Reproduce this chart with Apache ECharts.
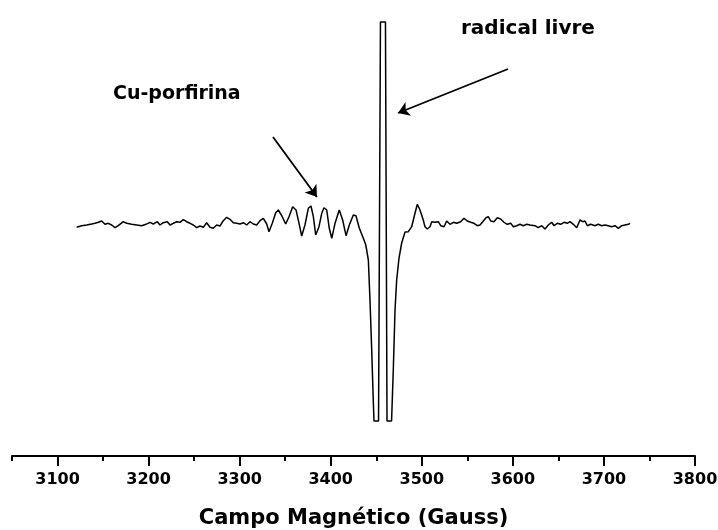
<!DOCTYPE html>
<html>
<head>
<meta charset="utf-8">
<script src="https://cdn.jsdelivr.net/npm/echarts@6/dist/echarts.min.js"></script>
<style>html,body{margin:0;padding:0;background:#fff;}#c{width:718px;height:530px;}</style>
</head>
<body>
<div id="c"></div>
<script>
// EPR spectrum: [magnetic field (Gauss), intensity (arb. units)]
var spectrum = [
[3121.0,-3.3],[3126.5,-1.7],[3132.0,-1],[3137.5,0],[3141.1,0.7],[3144.8,1.7],[3148.5,3],[3152.1,-0.3],[3155.7,0.7],[3159.5,-1],
[3163.1,-3.7],[3166.7,-1.7],[3172.2,2.3],[3176.0,0.7],[3181.4,-0.3],[3186.9,-1],[3192.4,-1.7],[3197.1,-0.3],[3201.5,1.7],[3205.2,0],
[3209.6,2.3],[3212.5,-1],[3216.1,1.3],[3220.5,2.3],[3223.5,-1],[3227.1,0.7],[3230.9,2.3],[3234.5,1.7],[3238.1,4.3],[3241.8,2.3],
[3245.5,0.7],[3249.1,-1],[3252.8,-3.7],[3256.4,-2],[3260.1,-3.3],[3263.8,1.3],[3267.4,-3.3],[3271.0,-4.3],[3274.8,-1],[3278.4,-2],
[3282.0,3.3],[3285.8,6.7],[3289.4,4.7],[3293.0,1.3],[3296.7,0.7],[3300.4,0],[3304.0,1.3],[3307.7,-1],[3311.3,2.3],[3315.0,0],
[3318.7,-1],[3322.3,3.3],[3326.0,5.7],[3329.7,0],[3332.2,-7.7],[3335.8,0.7],[3339.6,11.3],[3342.4,14],[3346.8,7.3],[3350.5,0],
[3354.2,7.3],[3358.2,17.3],[3361.9,14],[3365.2,0.7],[3368.1,-12],[3371.7,-1],[3375.4,15.7],[3378.3,18],[3380.9,7.3],[3383.5,-11],
[3387.1,-2.7],[3390.1,10.7],[3392.6,16.3],[3395.6,14],[3398.4,-4.3],[3401.1,-14.3],[3404.7,0.7],[3409.4,14],[3413.1,4],[3416.8,-11.7],
[3420.4,-1],[3424.8,9],[3427.7,8.3],[3431.4,-4.3],[3435.8,-14.3],[3438.5,-21],[3441.3,-36],[3443.1,-76],[3445.0,-126],[3446.7,-176],
[3447.5,-197],[3452.5,-197],[3454.6,202],[3460.1,202],[3461.8,-197],[3466.8,-197],[3468.7,-146],[3470.6,-86],[3472.4,-56],[3475.0,-34],
[3477.9,-19],[3481.6,-8],[3485.2,-7.7],[3488.9,-2.7],[3492.5,10.7],[3495.1,19.7],[3498.0,14],[3501.6,4],[3503.5,-2.7],[3506.0,-5],
[3509.0,-2.7],[3510.9,2.3],[3514.5,1.7],[3518.1,2.3],[3520.8,-1.7],[3524.4,-2.7],[3527.3,3],[3531.0,-0.3],[3534.6,1.7],[3538.3,0.7],
[3542.7,2.3],[3546.3,5.7],[3550.0,3],[3553.7,1.7],[3557.3,0.7],[3561.0,-1.7],[3563.9,-1],[3566.9,2.3],[3570.5,6.3],[3573.0,7.3],
[3575.7,3],[3579.3,2.3],[3582.9,6.3],[3586.6,5],[3590.3,1.7],[3593.9,-0.3],[3597.6,0.7],[3600.5,-2.7],[3604.2,-1.7],[3607.8,-0.3],
[3611.5,-1.7],[3615.2,-0.3],[3618.8,-1],[3624.3,-1.7],[3627.9,-3.7],[3631.7,-1.7],[3635.3,-5],[3638.9,-1],[3642.6,1.7],[3645.2,-1.7],
[3648.8,0.7],[3652.5,-0.3],[3656.1,1.7],[3659.8,0.7],[3662.7,2.3],[3666.4,-0.3],[3670.1,-3.7],[3673.7,4],[3676.7,2.3],[3679.2,3],
[3681.7,-1.7],[3685.5,-0.3],[3690.2,-1.7],[3693.8,-0.3],[3697.6,-1.7],[3701.2,-1],[3704.8,-1.7],[3708.5,-2.7],[3712.2,-1.7],[3715.8,-4.3],
[3719.5,-1.7],[3723.1,-1],[3726.8,-0.3],[3728.6,0.7]
];
var majorTicks = [3100,3200,3300,3400,3500,3600,3700,3800];
var minorTicks = [3050,3150,3250,3350,3450,3550,3650,3750];
var xName = 'Campo Magnético (Gauss)';
// annotations: label text and arrow [from, to] in data coords
var labelRadical = 'radical livre';
var labelCu = 'Cu-porfirina';
var arrowRadical = [[3594.7,155],[3473.9,111]];
var arrowCu = [[3336.6,87],[3384.9,27]];

var FONT = 'DejaVu Sans';
var chart = echarts.init(document.getElementById('c'), null, {renderer:'canvas'});
chart.setOption({
  animation:false,
  backgroundColor:'#ffffff',
  grid:{left:12,right:23,top:10,bottom:74,containLabel:false,outerBoundsMode:'none'},
  xAxis:[{
    type:'value',min:3050,max:3800,position:'bottom',
    name:xName,nameLocation:'middle',nameGap:52,
    nameTextStyle:{fontFamily:FONT,fontWeight:'bold',fontSize:21,color:'#000'},
    axisLine:{show:true,onZero:false,lineStyle:{color:'#000',width:2}},
    axisTick:{show:true,customValues:majorTicks,length:10,lineStyle:{color:'#000',width:2}},
    axisLabel:{show:true,customValues:majorTicks,margin:16,fontFamily:FONT,fontWeight:'bold',fontSize:16,color:'#000',
      formatter:function(v){return String(v);}},
    splitLine:{show:false}
  },{
    type:'value',min:3050,max:3800,position:'bottom',
    axisLine:{show:false,onZero:false},
    axisTick:{show:true,customValues:minorTicks,length:5,lineStyle:{color:'#000',width:2}},
    axisLabel:{show:false},
    splitLine:{show:false}
  }],
  yAxis:{type:'value',min:-232,max:214,show:false,splitLine:{show:false}},
  series:[{
    type:'line',xAxisIndex:0,data:spectrum,showSymbol:false,symbol:'none',
    lineStyle:{color:'#000',width:1.5},silent:true,
    markLine:{
      silent:true,symbol:['none','arrow'],symbolSize:11,
      label:{show:false},
      lineStyle:{color:'#000',width:1.8,type:'solid'},
      data:[
        [{coord:arrowRadical[0]},{coord:arrowRadical[1]}],
        [{coord:arrowCu[0]},{coord:arrowCu[1]}]
      ]
    }
  }],
  graphic:[
    {type:'text',left:461,top:19,style:{text:labelRadical,font:'bold 20px "DejaVu Sans"',fill:'#000'}},
    {type:'text',left:113,top:85,style:{text:labelCu,font:'bold 19px "DejaVu Sans"',fill:'#000'}}
  ]
});
</script>
</body>
</html>
